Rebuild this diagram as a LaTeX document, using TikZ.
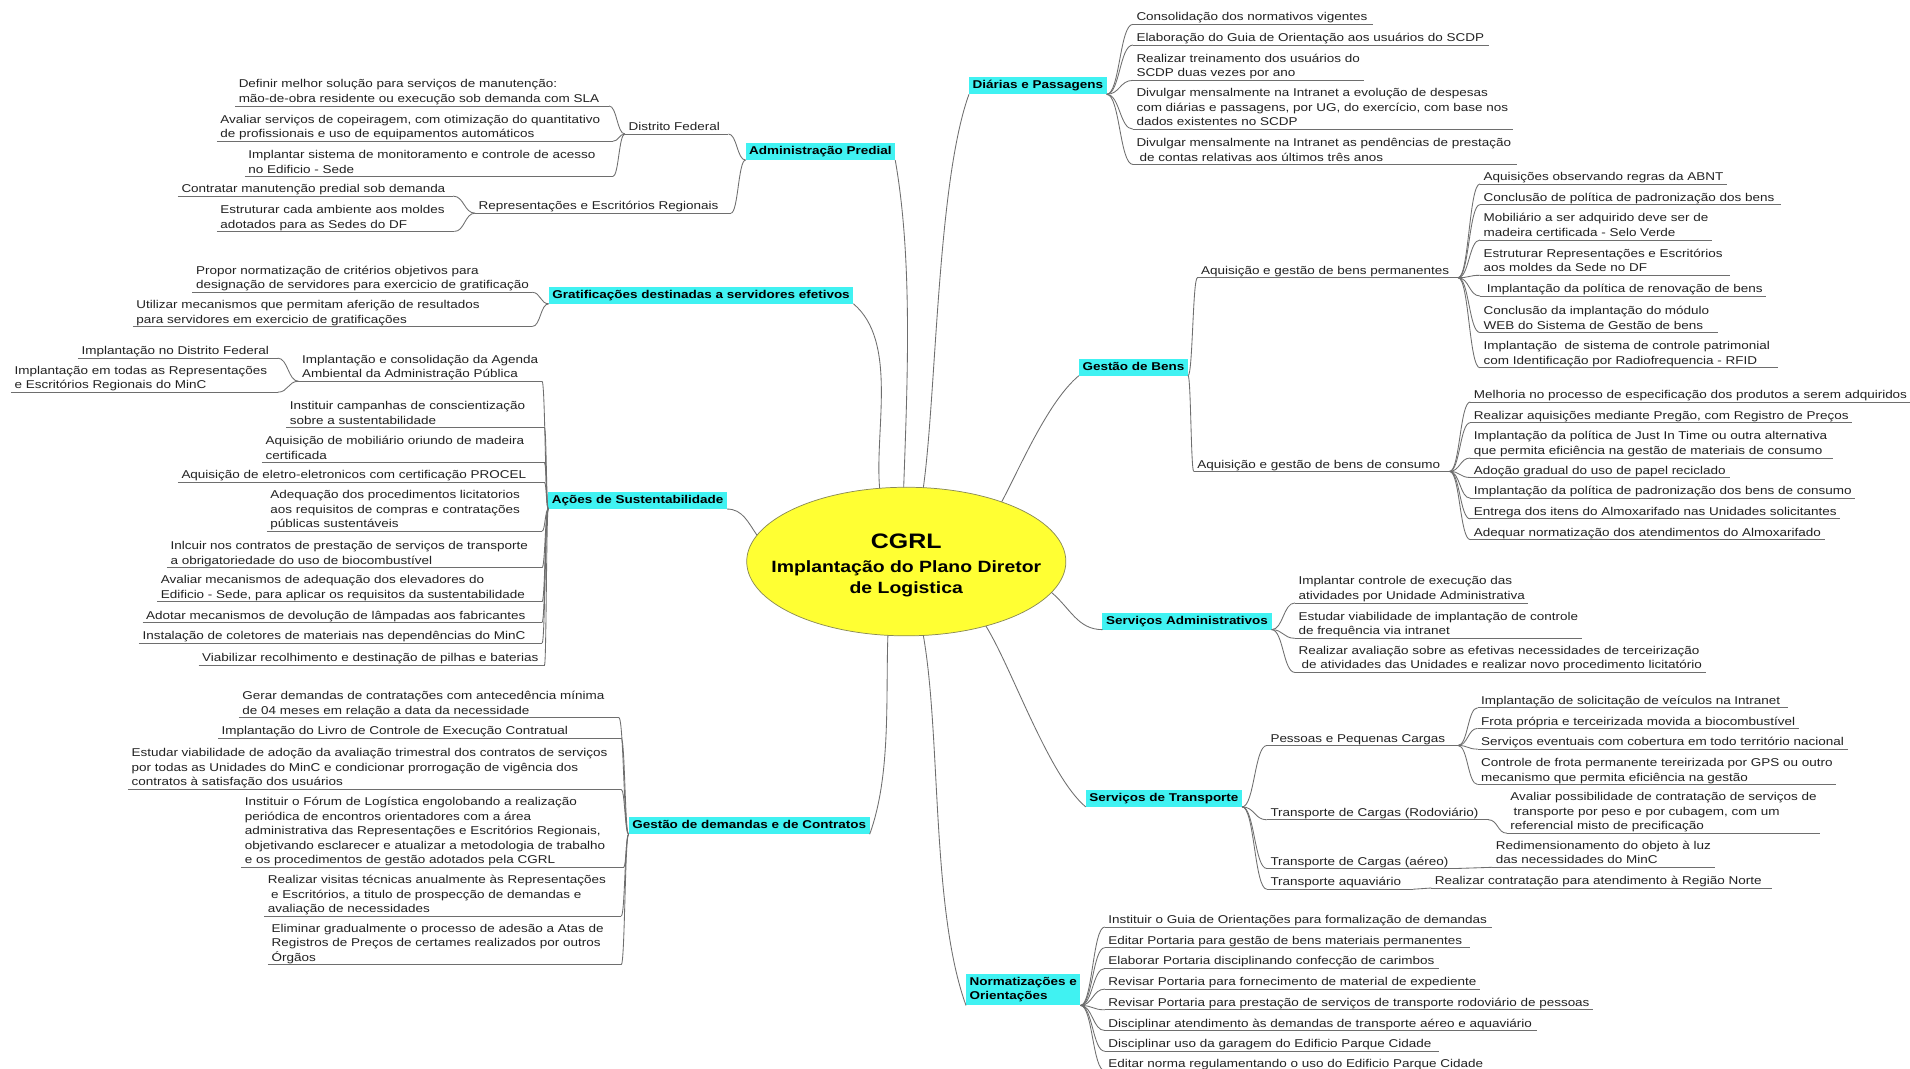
\documentclass[tikz,border=0pt]{standalone}
\usepackage{fontspec}
\setmainfont{Liberation Sans}[FakeStretch=1.19]
\usetikzlibrary{calc,shapes.geometric}

\definecolor{topicfill}{HTML}{40F2F2}
\definecolor{hubfill}{HTML}{FFFF33}
\definecolor{hubline}{HTML}{8A8A55}
\definecolor{wire}{HTML}{6E6E6E}
\definecolor{ink}{HTML}{222222}

% line strut: fixes the height of the first line and the depth of the last one
\newcommand{\lnstrut}{\rule[-2.8pt]{0pt}{11.2pt}}

\tikzset{
  leaf/.style={font=\fontsize{9.3}{12}\selectfont, text=ink, align=left,
    inner xsep=3pt, inner ysep=0pt, outer sep=0pt},
  topic/.style={fill=topicfill, font=\fontsize{9.3}{12}\selectfont\bfseries, text=black,
    align=left, inner xsep=3pt, inner ysep=0.9pt, outer sep=0pt},
  link/.style={draw=wire, line width=0.7pt},
  conn/.style={to path={let \p1=(\tikztostart), \p2=(\tikztotarget) in
    .. controls ({0.5*\x1+0.5*\x2},\y1) and ({0.5*\x1+0.5*\x2},\y2) .. (\tikztotarget)}},
  hub/.style={ellipse, fill=hubfill, draw=hubline, line width=0.6pt,
    minimum width=262pt, minimum height=122pt, inner sep=0pt, outer sep=0pt},
}

% right-hand subtopic: name, joint, text x, underline y, underline end, text
\newcommand{\rleaf}[6]{%
  \node[leaf,anchor=south west] (#1) at ({#3-3},#4) {\lnstrut#6\lnstrut};
  \coordinate (#1-e) at (#5,#4);
  \draw[link] (#1.south west) -- (#1-e);
  \draw[link] (#1.south west) -- (#1.south east);
  \draw[link] (#2) to[conn] (#1.south west);
}
% left-hand subtopic: the connector meets the right end of the underline
\newcommand{\lleaf}[6]{%
  \node[leaf,anchor=south west] (#1) at ({#3-3},#4) {\lnstrut#6\lnstrut};
  \coordinate (#1-e) at (#5,#4);
  \draw[link] (#1.south west) -- (#1-e);
  \draw[link] (#2) to[conn] (#1-e);
}

\begin{document}
\begin{tikzpicture}[x=1pt,y=-1pt]
\fill[white] (0,0) rectangle (1568,877);
\useasboundingbox (0,0) rectangle (1568,877);

% central topic
\node[hub] (hub) at (744,461) {};
\node[font=\fontsize{17.2}{19}\selectfont\bfseries] (hubtitle) at (744,444.7) {CGRL};
\node[font=\fontsize{13.4}{17}\selectfont\bfseries, align=center] (hubsub) at (744,475)
  {Implantação do Plano Diretor\\de Logistica};

% main topics
\node[topic] (admin)   at (673.5,124.5) {\strut Administração Predial\strut};
\node[topic] (grat)    at (575.5,242.5) {\strut Gratificações destinadas a servidores efetivos\strut};
\node[topic] (acoes)   at (523.5,411)   {\strut Ações de Sustentabilidade\strut};
\node[topic] (gdem)    at (615,678)     {\strut Gestão de demandas e de Contratos\strut};
\node[topic] (diarias) at (852,70.5)    {\strut Diárias e Passagens\strut};
\node[topic] (gbens)   at (930.5,301.5) {\strut Gestão de Bens\strut};
\node[topic] (sadm)    at (974.5,510)   {\strut Serviços Administrativos\strut};
\node[topic] (stransp) at (955.5,655.5) {\strut Serviços de Transporte\strut};
\node[topic] (norm)    at (840,812.5)   {\strut Normatizações e\\Orientações\strut};

% links from the central topic
\draw[link] (admin.south east)   to[out=-80,in=88,looseness=0.8]  (hub.92.8);
\draw[link] (grat.south east)    to[out=-40,in=95,looseness=0.8]  (hub.110);
\draw[link] (acoes.south east)   to[out=0,in=125]                 (hub.170);
\draw[link] (gdem.south east)    to[out=70,in=-92,looseness=0.8]  (hub.-104);
\draw[link] (diarias.south west) to[out=-110,in=82,looseness=0.6] (hub.77);
\draw[link] (gbens.south west)   to[out=-140,in=62,looseness=0.7] (hub.32);
\draw[link] (sadm.south west)    to[out=180,in=-40]               (hub.-12);
\draw[link] (stransp.south west) to[out=140,in=-58,looseness=0.6] (hub.-39);
\draw[link] (norm.south west)    to[out=110,in=-80,looseness=0.7] (hub.-77);

% ---------------- Administração Predial
\lleaf{a1}{admin.south west}{516}{110}{598}{Distrito Federal}
\lleaf{a1a}{a1.south west}{196}{87}{500}{Definir melhor solução para serviços de manutenção:\\mão-de-obra residente ou execução sob demanda com SLA}
\lleaf{a1b}{a1.south west}{181}{116}{503}{Avaliar serviços de copeiragem, com otimização do quantitativo\\de profissionais e uso de equipamentos automáticos}
\lleaf{a1c}{a1.south west}{204}{145}{503}{Implantar sistema de monitoramento e controle de acesso\\no Edificio - Sede}
\lleaf{a2}{admin.south west}{393}{175}{600}{Representações e Escritórios Regionais}
\lleaf{a2a}{a2.south west}{149}{161}{372}{Contratar manutenção predial sob demanda}
\lleaf{a2b}{a2.south west}{181}{190}{373}{Estruturar cada ambiente aos moldes\\adotados para as Sedes do DF}

% ---------------- Gratificações
\lleaf{g1}{grat.south west}{161}{240}{437}{Propor normatização de critérios objetivos para\\designação de servidores para exercicio de gratificação}
\lleaf{g2}{grat.south west}{112}{268}{437}{Utilizar mecanismos que permitam aferição de resultados\\para servidores em exercicio de gratificações}

% ---------------- Ações de Sustentabilidade
\lleaf{s1}{acoes.south west}{248}{313}{445}{Implantação e consolidação da Agenda\\Ambiental da Administração Pública}
\lleaf{s1a}{s1.south west}{67}{294}{228}{Implantação no Distrito Federal}
\lleaf{s1b}{s1.south west}{12}{322}{228}{Implantação em todas as Representações\\e Escritórios Regionais do MinC}
\lleaf{s2}{acoes.south west}{238}{351}{447}{Instituir campanhas de conscientização\\sobre a sustentabilidade}
\lleaf{s3}{acoes.south west}{218}{380}{447}{Aquisição de mobiliário oriundo de madeira\\certificada}
\lleaf{s4}{acoes.south west}{149}{396}{447}{Aquisição de eletro-eletronicos com certificação PROCEL}
\lleaf{s5}{acoes.south west}{222}{436}{445}{Adequação dos procedimentos licitatorios\\aos requisitos de compras e contratações\\públicas sustentáveis}
\lleaf{s6}{acoes.south west}{140}{466}{445}{Inlcuir nos contratos de prestação de serviços de transporte\\a obrigatoriedade do uso de biocombustível}
\lleaf{s7}{acoes.south west}{132}{494}{445}{Avaliar mecanismos de adequação dos elevadores do\\Edificio - Sede, para aplicar os requisitos da sustentabilidade}
\lleaf{s8}{acoes.south west}{120}{511}{445}{Adotar mecanismos de devolução de lâmpadas aos fabricantes}
\lleaf{s9}{acoes.south west}{117}{528}{445}{Instalação de coletores de materiais nas dependências do MinC}
\lleaf{s10}{acoes.south west}{166}{546}{447}{Viabilizar recolhimento e destinação de pilhas e baterias}

% ---------------- Gestão de demandas e de Contratos
\lleaf{c1}{gdem.south west}{199}{589}{508}{Gerar demandas de contratações com antecedência mínima\\de 04 meses em relação a data da necessidade}
\lleaf{c2}{gdem.south west}{182}{606}{510}{Implantação do Livro de Controle de Execução Contratual}
\lleaf{c3}{gdem.south west}{108}{648}{510}{Estudar viabilidade de adoção da avaliação trimestral dos contratos de serviços\\por todas as Unidades do MinC e condicionar prorrogação de vigência dos\\contratos à satisfação dos usuários}
\lleaf{c4}{gdem.south west}{201}{712}{512}{Instituir o Fórum de Logística engolobando a realização\\periódica de encontros orientadores com a área\\administrativa das Representações e Escritórios Regionais,\\objetivando esclarecer e atualizar a metodologia de trabalho\\e os procedimentos de gestão adotados pela CGRL}
\lleaf{c5}{gdem.south west}{220}{752}{510}{Realizar visitas técnicas anualmente às Representações\\\hspace*{2.6pt}e Escritórios, a titulo de prospecção de demandas e\\avaliação de necessidades}
\lleaf{c6}{gdem.south west}{223}{792}{510}{Eliminar gradualmente o processo de adesão a Atas de\\Registros de Preços de certames realizados por outros\\Órgãos}

% ---------------- Diárias e Passagens
\rleaf{d1}{diarias.south east}{933}{20}{1127}{Consolidação dos normativos vigentes}
\rleaf{d2}{diarias.south east}{933}{37}{1222}{Elaboração do Guia de Orientação aos usuários do SCDP}
\rleaf{d3}{diarias.south east}{933}{66}{1120}{Realizar treinamento dos usuários do\\SCDP duas vezes por ano}
\rleaf{d4}{diarias.south east}{933}{106}{1242}{Divulgar mensalmente na Intranet a evolução de despesas\\com diárias e passagens, por UG, do exercício, com base nos\\dados existentes no SCDP}
\rleaf{d5}{diarias.south east}{933}{135}{1245}{Divulgar mensalmente na Intranet as pendências de prestação\\\hspace*{2.6pt}de contas relativas aos últimos três anos}

% ---------------- Gestão de Bens
\rleaf{gb1}{gbens.south east}{986}{228}{1197}{Aquisição e gestão de bens permanentes}
\rleaf{gb1a}{gb1-e}{1218}{151}{1418}{Aquisições observando regras da ABNT}
\rleaf{gb1b}{gb1-e}{1218}{168}{1462}{Conclusão de política de padronização dos bens}
\rleaf{gb1c}{gb1-e}{1218}{197}{1405}{Mobiliário a ser adquirido deve ser de\\madeira certificada - Selo Verde}
\rleaf{gb1d}{gb1-e}{1218}{226}{1420}{Estruturar Representações e Escritórios\\aos moldes da Sede no DF}
\rleaf{gb1e}{gb1-e}{1218}{243}{1450}{\hspace*{2.6pt}Implantação da política de renovação de bens}
\rleaf{gb1f}{gb1-e}{1218}{273}{1410}{Conclusão da implantação do módulo\\WEB do Sistema de Gestão de bens}
\rleaf{gb1g}{gb1-e}{1218}{302}{1460}{Implantação\ \ de sistema de controle patrimonial\\com Identificação por Radiofrequencia - RFID}
\rleaf{gb2}{gbens.south east}{983}{387}{1190}{Aquisição e gestão de bens de consumo}
\rleaf{gb2a}{gb2-e}{1210}{330}{1568}{Melhoria no processo de especificação dos produtos a serem adquiridos}
\rleaf{gb2b}{gb2-e}{1210}{347}{1520}{Realizar aquisições mediante Pregão, com Registro de Preços}
\rleaf{gb2c}{gb2-e}{1210}{376}{1505}{Implantação da política de Just In Time ou outra alternativa\\que permita eficiência na gestão de materiais de consumo}
\rleaf{gb2d}{gb2-e}{1210}{392}{1420}{Adoção gradual do uso de papel reciclado}
\rleaf{gb2e}{gb2-e}{1210}{409}{1520}{Implantação da política de padronização dos bens de consumo}
\rleaf{gb2f}{gb2-e}{1210}{426}{1510}{Entrega dos itens do Almoxarifado nas Unidades solicitantes}
\rleaf{gb2g}{gb2-e}{1210}{443}{1495}{Adequar normatização dos atendimentos do Almoxarifado}

% ---------------- Serviços Administrativos
\rleaf{sa1}{sadm.south east}{1066}{495}{1252}{Implantar controle de execução das\\atividades por Unidade Administrativa}
\rleaf{sa2}{sadm.south east}{1066}{524}{1298}{Estudar viabilidade de implantação de controle\\de frequência via intranet}
\rleaf{sa3}{sadm.south east}{1066}{552}{1397}{Realizar avaliação sobre as efetivas necessidades de terceirização\\\hspace*{2.6pt}de atividades das Unidades e realizar novo procedimento licitatório}

% ---------------- Serviços de Transporte
\rleaf{t1}{stransp.south east}{1043}{612}{1197}{Pessoas e Pequenas Cargas}
\rleaf{t1a}{t1-e}{1216}{581}{1468}{Implantação de solicitação de veículos na Intranet}
\rleaf{t1b}{t1-e}{1216}{598}{1475}{Frota própria e terceirizada movida a biocombustível}
\rleaf{t1c}{t1-e}{1216}{615}{1512}{Serviços eventuais com cobertura em todo território nacional}
\rleaf{t1d}{t1-e}{1216}{644}{1502}{Controle de frota permanente tereirizada por GPS ou outro\\mecanismo que permita eficiência na gestão}
\rleaf{t2}{stransp.south east}{1043}{673}{1222}{Transporte de Cargas (Rodoviário)}
\rleaf{t2a}{t2-e}{1240}{684}{1493}{Avaliar possibilidade de contratação de serviços de\\\hspace*{2.6pt}transporte por peso e por cubagem, com um\\referencial misto de precificação}
\rleaf{t3}{stransp.south east}{1043}{713}{1195}{Transporte de Cargas (aéreo)}
\rleaf{t3a}{t3-e}{1228}{712}{1405}{Redimensionamento do objeto à luz\\das necessidades do MinC}
\rleaf{t4}{stransp.south east}{1043}{730}{1160}{Transporte aquaviário}
\rleaf{t4a}{t4-e}{1178}{729}{1455}{Realizar contratação para atendimento à Região Norte}

% ---------------- Normatizações e Orientações
\rleaf{n1}{norm.south east}{910}{761}{1225}{Instituir o Guia de Orientações para formalização de demandas}
\rleaf{n2}{norm.south east}{910}{778}{1207}{Editar Portaria para gestão de bens materiais permanentes}
\rleaf{n3}{norm.south east}{910}{795}{1181}{Elaborar Portaria disciplinando confecção de carimbos}
\rleaf{n4}{norm.south east}{910}{812}{1213}{Revisar Portaria para fornecimento de material de expediente}
\rleaf{n5}{norm.south east}{910}{829}{1305}{Revisar Portaria para prestação de serviços de transporte rodoviário de pessoas}
\rleaf{n6}{norm.south east}{910}{846}{1262}{Disciplinar atendimento às demandas de transporte aéreo e aquaviário}
\rleaf{n7}{norm.south east}{910}{863}{1181}{Disciplinar uso da garagem do Edificio Parque Cidade}
\rleaf{n8}{norm.south east}{910}{879}{1225}{Editar norma regulamentando o uso do Edificio Parque Cidade}
\end{tikzpicture}
\end{document}
